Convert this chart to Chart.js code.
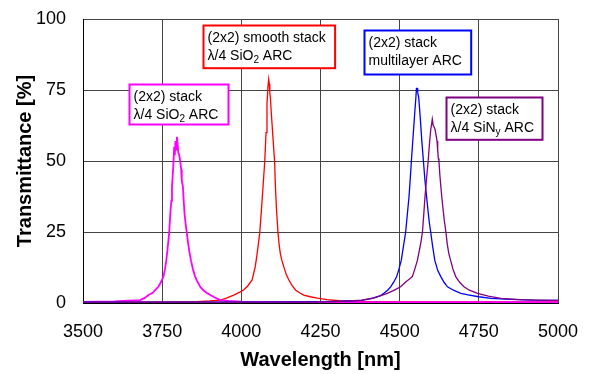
<!DOCTYPE html>
<html>
<head>
<meta charset="utf-8">
<script src="https://cdn.jsdelivr.net/npm/chart.js@4/dist/chart.umd.min.js"></script>
<style>
html,body{margin:0;padding:0;background:#fff;}
#wrap{width:590px;height:374px;}
</style>
</head>
<body>
<div id="wrap"><canvas id="c" width="590" height="374"></canvas></div>
<script>
// ---- tick labels / axes ----
const xTicks = [3500, 3750, 4000, 4250, 4500, 4750, 5000];
const yTicks = [0, 25, 50, 75, 100];
const xTitle = "Wavelength [nm]";
const yTitle = "Transmittance [%]";

// ---- series: (2x2) stack λ/4 SiO2 ARC (magenta) ----
const magentaWl = [3500,3550,3600,3640,3665,3681,3695,3707,3720,3730,3738,3746,3754,3759,3763,3767,3772,3776,3779,3781,3784,3786,3788,3790,3792,3794,3796.5,3799,3801,3804,3807,3810,3812,3815.5,3818,3821,3824,3828,3832,3836,3841,3847,3854,3860,3865,3870,3880,3890,3902,3915,3933,3960,4000,4100,4300,4600,5000];
const magentaT  = [0.4,0.5,0.6,0.8,0.9,1.0,1.8,2.8,3.6,4.8,5.7,7.3,9.3,12,15,19,24.5,32,36,41,46,50,55,52,57,54,58.5,56,53,52,50,47,43,41,36,31,28,24.5,21,18,15,12,9.3,7.8,6.8,5.7,4.5,3.6,2.8,2.0,1.0,0.7,0.5,0.4,0.3,0.3,0.3];

// ---- series: (2x2) smooth stack λ/4 SiO2 ARC (red) ----
const redWl = [3500,3700,3800,3860,3900,3934,3955,3976,3995,4007,4020,4034,4044,4050,4058,4063,4068.6,4074,4078,4081,4084,4086.4,4088.5,4090,4092,4094,4097,4100,4105,4107.6,4111,4116,4119,4123,4128,4134,4142,4150,4160,4171,4185,4197,4218,4240,4270,4310,4360,4450,4600,4800,5000];
const redT  = [0.3,0.3,0.4,0.5,0.7,1.0,1.8,2.8,3.8,4.6,6.0,8.1,12.8,17.5,24.5,32,41,50,60,70,76,78.8,77,74,72,68,63,58,50,41,33,24.5,21,17.5,15,12.8,10,8.1,6.2,4.6,3.5,2.8,2.2,1.7,1.2,0.8,0.6,0.5,0.4,0.4,0.4];

// ---- series: (2x2) stack multilayer ARC (blue) ----
const blueWl = [3500,3800,4000,4200,4300,4350,4380,4410,4440,4450,4462,4471.5,4482,4490.5,4498,4505,4512,4519,4524,4529.5,4533,4537,4542,4547.5,4551,4553,4555,4557,4560,4564,4567,4570,4575,4580,4585,4590,4594,4598,4604,4611,4620,4630,4640,4651,4670,4693,4720,4750,4788,4850,4920,5000];
const blueT  = [0.3,0.3,0.3,0.4,0.6,0.8,0.9,1.5,2.6,3.4,4.5,5.7,7.5,9.3,12,15,20,25,31,37.4,43,50,58,66.8,72,75.6,75.6,74,72.5,66.8,62,57,50,43,37.4,32,28,25,20,15,11.5,9.3,7.3,5.7,4.5,3.4,2.8,2.2,1.6,1.3,1.0,0.9];

// ---- series: (2x2) stack λ/4 SiNy ARC (purple) ----
const purpleWl = [3500,4000,4200,4300,4380,4420,4461,4485,4503,4520,4532,4540,4548,4556,4563,4568,4572,4576,4580,4585,4590,4594,4598,4601,4603,4606,4609,4612,4615,4618,4620,4622,4624,4627,4630,4633,4637,4641,4646,4650,4655,4661,4668,4677,4690,4703,4720,4746,4780,4820,4880,4940,5000];
const purpleT  = [0.3,0.3,0.3,0.5,1.0,1.8,3.4,4.6,5.7,7.5,8.5,9.3,12,15,19,22,25,31,37.4,44,50,56,61,63,64.7,62.5,62,61,59,57,54,51,50,45,41,37.4,33,29,25,21,17.5,15,12,9.3,7.2,5.7,4.5,3.4,2.4,1.6,1.2,1.0,0.9];

// ---- label texts ("_" marks a subscript character) ----
const magentaLabel = ["(2x2) stack", "λ/4 SiO_2 ARC"];
const redLabel     = ["(2x2) smooth stack", "λ/4 SiO_2 ARC"];
const blueLabel    = ["(2x2) stack", "multilayer ARC"];
const purpleLabel  = ["(2x2) stack", "λ/4 SiN_y ARC"];

const FONT = '"Liberation Sans", Arial, Helvetica, sans-serif';

function pts(wl, t){ return wl.map((x,i)=>({x:x, y:t[i]})); }

// label box placement (anchor = top-left in data coordinates, size in px)
const boxes = [
  {lines: magentaLabel, color:'#FF00FF', x:3646.5, y:77.1, w:99,  h:40},
  {lines: redLabel,     color:'#FF0000', x:3878.8, y:97.9, w:131.6, h:42.7},
  {lines: blueLabel,    color:'#0000FF', x:4387,   y:96.1, w:106.7, h:44},
  {lines: purpleLabel,  color:'#800080', x:4645.6, y:72.6, w:96,  h:42.3}
];

const boxPlugin = {
  id:'boxes',
  afterDatasetsDraw(chart){
    const ctx = chart.ctx;
    const xs = chart.scales.x, ys = chart.scales.y;
    ctx.save();
    boxes.forEach(b=>{
      const L = Math.round(xs.getPixelForValue(b.x)) + 0.5;
      const T = Math.round(ys.getPixelForValue(b.y)) + 0.5;
      ctx.fillStyle = '#fff';
      ctx.fillRect(L, T, b.w, b.h);
      ctx.strokeStyle = b.color;
      ctx.lineWidth = 2;
      ctx.strokeRect(L, T, b.w, b.h);
      ctx.fillStyle = '#000';
      ctx.textBaseline = 'alphabetic';
      ctx.textAlign = 'left';
      b.lines.forEach((line, li)=>{
        let cx = L + 4;
        const base = T + 16 + li*18;
        const parts = line.split(/(_.)/);
        parts.forEach(p=>{
          if(!p) return;
          if(p[0]==='_'){
            ctx.font = '10px ' + FONT;
            ctx.fillText(p[1], cx, base + 3);
            cx += ctx.measureText(p[1]).width;
          } else {
            ctx.font = '14px ' + FONT;
            ctx.fillText(p, cx, base);
            cx += ctx.measureText(p).width;
          }
        });
      });
    });
    ctx.restore();
  }
};

const ds = (label, data, color, w) => ({
  label, data, borderColor: color, backgroundColor: color,
  borderWidth: w, pointRadius: 0, tension: 0, fill: false
});

new Chart(document.getElementById('c'), {
  type: 'line',
  data: {
    datasets: [
      ds('(2x2) stack λ/4 SiNy ARC', pts(purpleWl, purpleT), '#800080', 1.3),
      ds('(2x2) stack multilayer ARC', pts(blueWl, blueT), '#0000FF', 1.3),
      ds('(2x2) stack λ/4 SiO2 ARC', pts(magentaWl, magentaT), '#FF00FF', 1.8),
      ds('(2x2) smooth stack λ/4 SiO2 ARC', pts(redWl, redT), '#FF0000', 1.3)
    ]
  },
  options: {
    responsive: false,
    animation: false,
    devicePixelRatio: 1,
    layout: { autoPadding: false, padding: { top: 19, right: 32, left: 0, bottom: 0 } },
    plugins: { legend: { display: false }, tooltip: { enabled: false } },
    scales: {
      x: {
        type: 'linear', min: 3500, max: 5000,
        afterBuildTicks(s){ s.ticks = xTicks.map(v=>({value:v})); },
        afterFit(s){ s.height = 71; s.paddingLeft = 0; s.paddingRight = 0; s.paddingTop = 0; s.paddingBottom = 0; },
        grid: { color: '#444', lineWidth: 1, drawTicks: false },
        border: { color: '#000', width: 1 },
        ticks: { color: '#000', font: { family: FONT, size: 18 }, padding: 18, maxRotation: 0, autoSkip: false,
                 callback: v => String(v) },
        title: { display: true, text: xTitle, color: '#000', font: { family: FONT, size: 20, weight: 'bold' }, padding: { top: 0, bottom: 2 } }
      },
      y: {
        min: 0, max: 100,
        afterBuildTicks(s){ s.ticks = yTicks.map(v=>({value:v})); },
        afterFit(s){ s.width = 83; s.paddingLeft = 0; s.paddingRight = 0; s.paddingTop = 0; s.paddingBottom = 0; },
        grid: { color: '#444', lineWidth: 1, drawTicks: false },
        border: { color: '#000', width: 1 },
        ticks: { color: '#000', font: { family: FONT, size: 18 }, padding: 17, autoSkip: false,
                 callback: v => String(v) },
        title: { display: true, text: yTitle, color: '#000', font: { family: FONT, size: 20, weight: 'bold' }, padding: { top: 13, bottom: 0 } }
      }
    }
  },
  plugins: [boxPlugin]
});
</script>
</body>
</html>
